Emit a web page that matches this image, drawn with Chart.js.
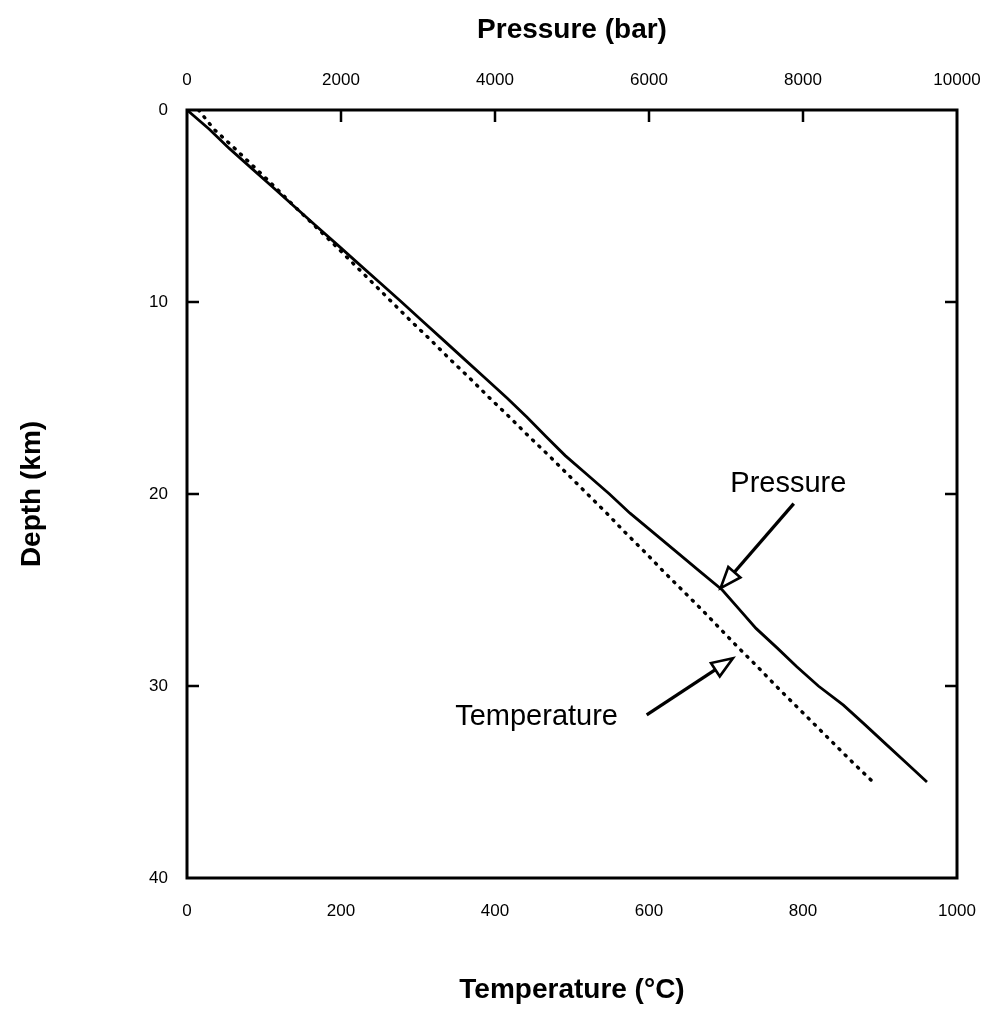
<!DOCTYPE html>
<html>
<head>
<meta charset="utf-8">
<script src="https://cdn.jsdelivr.net/npm/chart.js@4.4.1/dist/chart.umd.min.js"></script>
<style>
  html, body { margin: 0; padding: 0; background: #ffffff; }
  #wrap { width: 983px; height: 1013px; }
</style>
</head>
<body>
<div id="wrap"><canvas id="c" width="983" height="1013"></canvas></div>
<script>
// ---- Data ----
const depthKm = [0,1,2,3,4,5,6,7,8,9,10,11,12,13,14,15,16,17,18,19,20,21,22,23,24,25,26,27,28,29,30,31,32,33,34,35];
const pressureBar = [0,290,549,829,1108,1387,1667,1947,2226,2506,2786,3060,3334,3608,3882,4156,4416,4662,4912,5199,5486,5753,6053,6353,6652,6952,7170,7390,7660,7920,8200,8525,8800,9070,9340,9610];
const temperatureC = [15,35,62,88,114,139,165,191,216,241,266,291,317,342,368,393,419,444,470,495,520,545,569,594,618,643,668,692,716,741,765,790,815,840,865,891];

const temperatureTicks = [0,200,400,600,800,1000];
const pressureTicks = [0,2000,4000,6000,8000,10000];
const depthTicks = [0,10,20,30,40];

// annotation anchors in data units (temperature °C, depth km)
const pressureLabel = { text: "Pressure", t: 781, d: 19.5 };
const pressureArrow = { fromT: 788, fromD: 20.5, toT: 693, toD: 24.9 };
const temperatureLabel = { text: "Temperature", t: 454, d: 31.6 };
const temperatureArrow = { fromT: 597, fromD: 31.5, toT: 709, toD: 28.55 };

const FONT = "'Liberation Sans', Arial, Helvetica, sans-serif";

function fixedSize(prop, v) {
  return function(scale) {
    scale[prop] = v;
    scale.paddingLeft = 0; scale.paddingRight = 0;
    scale.paddingTop = 0; scale.paddingBottom = 0;
  };
}

function arrow(ctx, x1, y1, x2, y2) {
  const ang = Math.atan2(y2 - y1, x2 - x1);
  const headLen = 21, headHalf = 8;
  const bx = x2 - headLen * Math.cos(ang), by = y2 - headLen * Math.sin(ang);
  ctx.save();
  ctx.strokeStyle = '#000';
  ctx.lineWidth = 3.3;
  ctx.lineCap = 'butt';
  ctx.beginPath();
  ctx.moveTo(x1, y1);
  ctx.lineTo(bx + 6 * Math.cos(ang), by + 6 * Math.sin(ang));
  ctx.stroke();
  ctx.lineWidth = 2.6;
  ctx.lineJoin = 'miter';
  ctx.beginPath();
  ctx.moveTo(x2, y2);
  ctx.lineTo(bx + headHalf * Math.sin(ang), by - headHalf * Math.cos(ang));
  ctx.lineTo(bx - headHalf * Math.sin(ang), by + headHalf * Math.cos(ang));
  ctx.closePath();
  ctx.fillStyle = '#fff';
  ctx.fill();
  ctx.stroke();
  ctx.restore();
}

const framePlugin = {
  id: 'frameAndTicks',
  afterDatasetsDraw(chart) {
    const ctx = chart.ctx;
    const a = chart.chartArea;
    const sx = chart.scales.x, sx2 = chart.scales.x2, sy = chart.scales.y;
    const tl = 12;
    ctx.save();
    ctx.strokeStyle = '#000';
    ctx.lineWidth = 2.5;
    ctx.beginPath();
    // top ticks (pressure axis)
    pressureTicks.slice(1, -1).forEach(v => {
      const px = sx2.getPixelForValue(v);
      ctx.moveTo(px, a.top); ctx.lineTo(px, a.top + tl);
    });
    // left & right ticks (depth)
    depthTicks.slice(1, -1).forEach(v => {
      const py = sy.getPixelForValue(v);
      ctx.moveTo(a.left, py); ctx.lineTo(a.left + tl, py);
      ctx.moveTo(a.right, py); ctx.lineTo(a.right - tl, py);
    });
    ctx.stroke();
    // frame
    ctx.lineWidth = 3;
    ctx.strokeRect(a.left, a.top, a.right - a.left, a.bottom - a.top);

    // annotations
    ctx.fillStyle = '#000';
    ctx.font = '29px ' + FONT;
    ctx.textAlign = 'center';
    ctx.textBaseline = 'middle';
    ctx.fillText(pressureLabel.text, sx.getPixelForValue(pressureLabel.t), sy.getPixelForValue(pressureLabel.d));
    ctx.fillText(temperatureLabel.text, sx.getPixelForValue(temperatureLabel.t), sy.getPixelForValue(temperatureLabel.d));
    arrow(ctx, sx.getPixelForValue(pressureArrow.fromT), sy.getPixelForValue(pressureArrow.fromD),
               sx.getPixelForValue(pressureArrow.toT), sy.getPixelForValue(pressureArrow.toD));
    arrow(ctx, sx.getPixelForValue(temperatureArrow.fromT), sy.getPixelForValue(temperatureArrow.fromD),
               sx.getPixelForValue(temperatureArrow.toT), sy.getPixelForValue(temperatureArrow.toD));
    ctx.restore();
  }
};

const tickFont = { family: FONT, size: 17 };
const titleFont = { family: FONT, size: 28, weight: 'bold' };
const plain = v => String(v);

new Chart(document.getElementById('c'), {
  type: 'scatter',
  data: {
    datasets: [
      {
        label: 'Pressure',
        xAxisID: 'x2',
        yAxisID: 'y',
        data: depthKm.map((d, i) => ({ x: pressureBar[i], y: d })),
        showLine: true,
        borderColor: '#000',
        borderWidth: 2.8,
        pointRadius: 0,
        tension: 0
      },
      {
        label: 'Temperature',
        xAxisID: 'x',
        yAxisID: 'y',
        data: depthKm.map((d, i) => ({ x: temperatureC[i], y: d })),
        showLine: true,
        borderColor: '#000',
        borderWidth: 3.4,
        borderCapStyle: 'round',
        borderDash: [1.2, 7.5],
        pointRadius: 0,
        tension: 0
      }
    ]
  },
  options: {
    responsive: false,
    animation: false,
    devicePixelRatio: 1,
    layout: { padding: 0 },
    plugins: { legend: { display: false }, tooltip: { enabled: false } },
    scales: {
      x: {
        type: 'linear', position: 'bottom', min: 0, max: 1000,
        afterFit: fixedSize('height', 135),
        afterBuildTicks: s => { s.ticks = temperatureTicks.map(v => ({ value: v })); },
        grid: { display: false, drawTicks: false },
        border: { display: false },
        ticks: { color: '#000', font: tickFont, padding: 23, maxRotation: 0, callback: plain },
        title: { display: true, text: 'Temperature (°C)', color: '#000', font: titleFont, padding: { bottom: 6 } }
      },
      x2: {
        type: 'linear', position: 'top', min: 0, max: 10000,
        afterFit: fixedSize('height', 110),
        afterBuildTicks: s => { s.ticks = pressureTicks.map(v => ({ value: v })); },
        grid: { display: false, drawTicks: false },
        border: { display: false },
        ticks: { color: '#000', font: tickFont, padding: 19, maxRotation: 0, callback: plain },
        title: { display: true, text: 'Pressure (bar)', color: '#000', font: titleFont, padding: { top: 13 } }
      },
      y: {
        type: 'linear', position: 'left', min: 0, max: 40, reverse: true,
        afterFit: fixedSize('width', 187),
        afterBuildTicks: s => { s.ticks = depthTicks.map(v => ({ value: v })); },
        grid: { display: false, drawTicks: false },
        border: { display: false },
        ticks: { color: '#000', font: tickFont, padding: 19, callback: plain },
        title: { display: true, text: 'Depth (km)', color: '#000', font: titleFont, padding: { top: 15 } }
      },
      y2: {
        type: 'linear', position: 'right', min: 0, max: 40, reverse: true,
        afterFit: fixedSize('width', 26),
        grid: { display: false, drawTicks: false },
        border: { display: false },
        ticks: { display: false }
      }
    }
  },
  plugins: [framePlugin]
});
</script>
</body>
</html>
